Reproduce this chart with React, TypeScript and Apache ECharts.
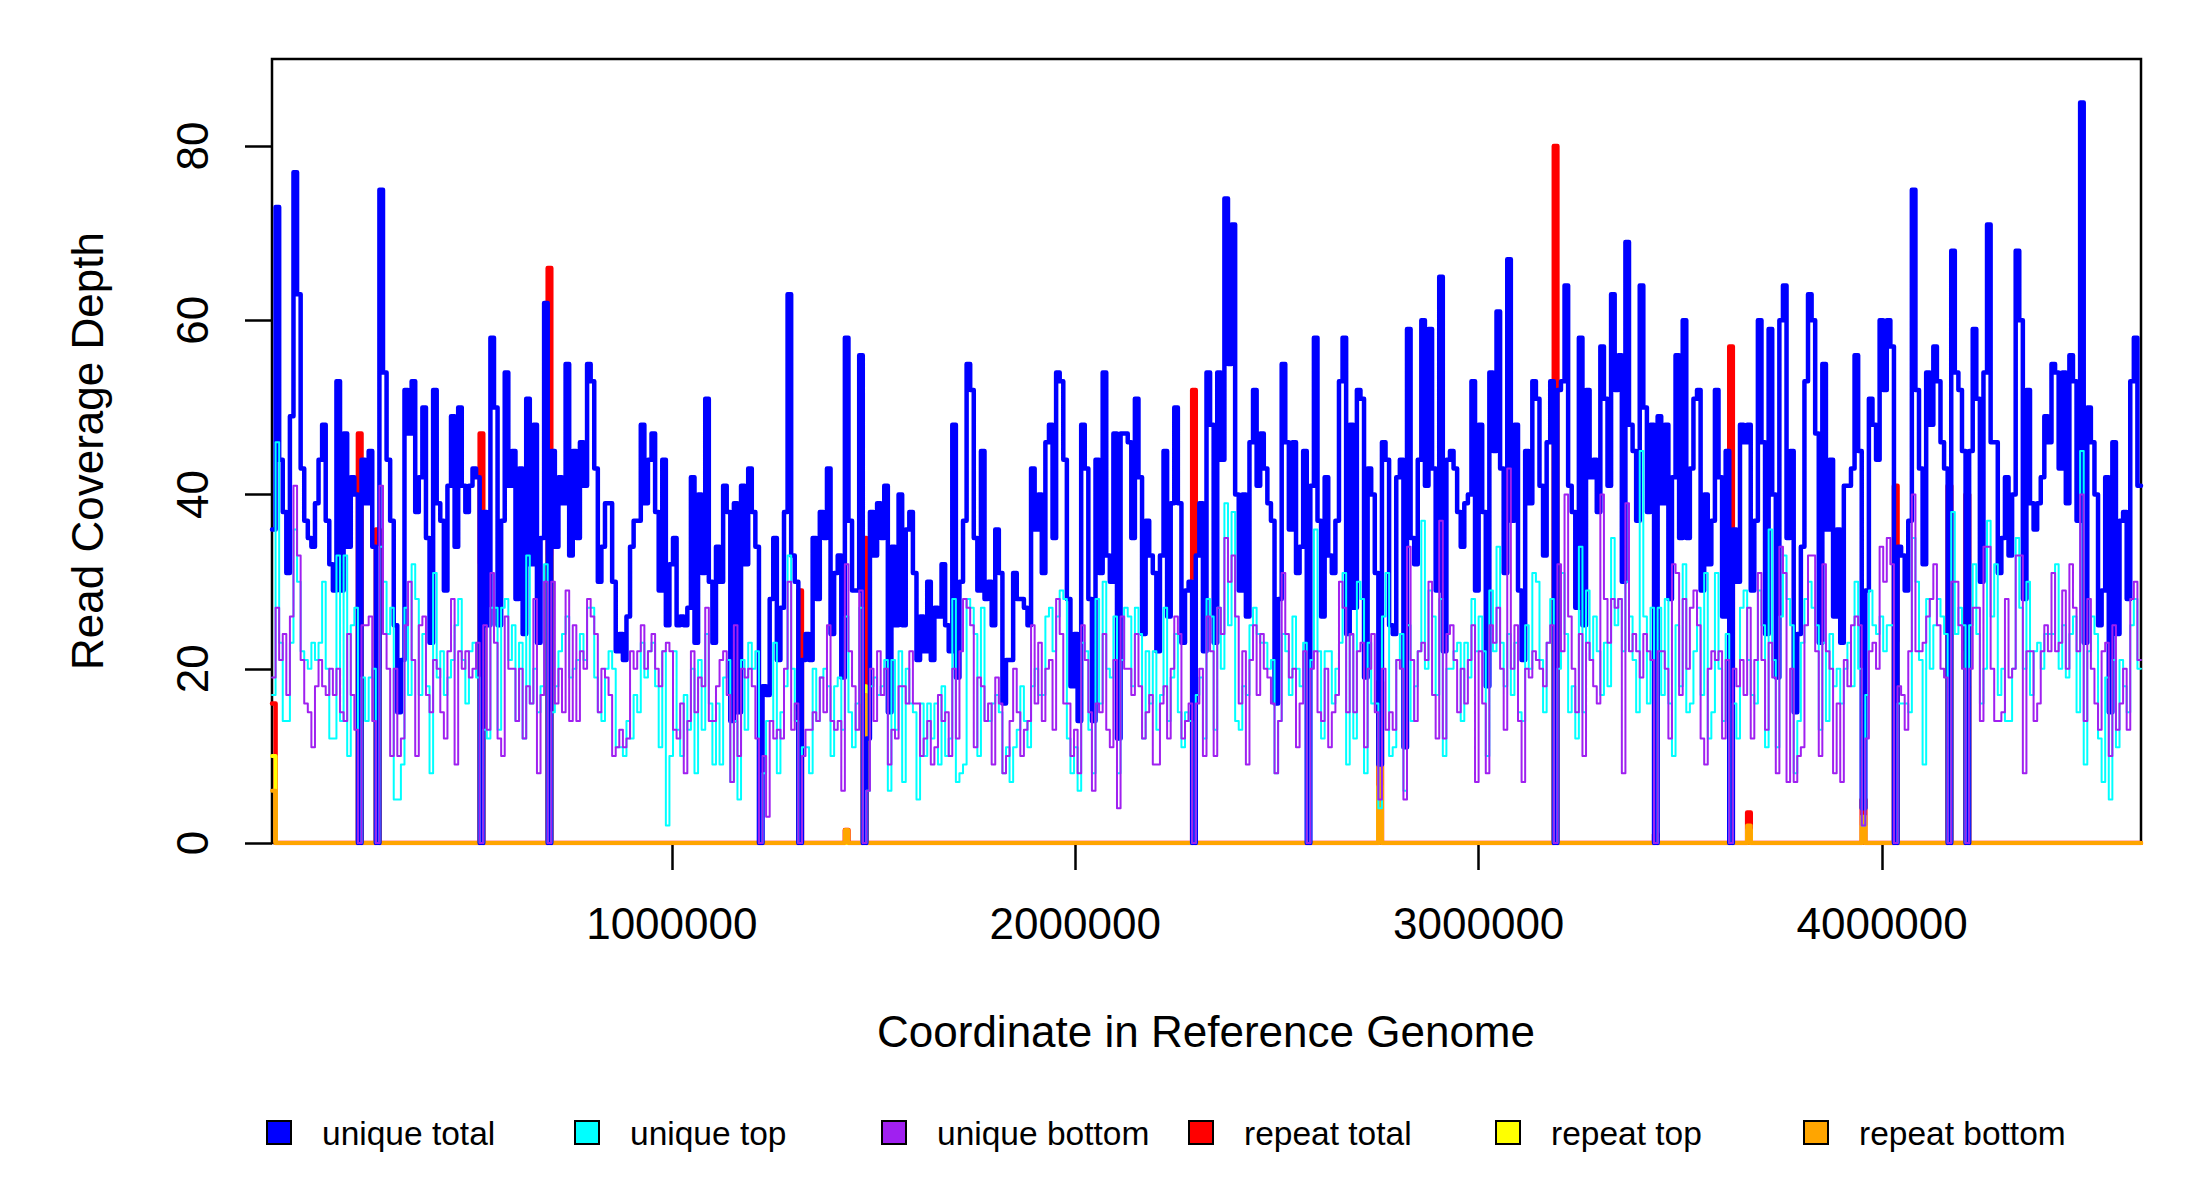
import React, { useEffect, useRef } from "react";
import * as echarts from "echarts";

// ---- axis ranges and ticks ----
const GENOME_START = 9000;
const GENOME_END = 4641652;
const X_TICKS = [1000000, 2000000, 3000000, 4000000];
const Y_TICKS = [0, 20, 40, 60, 80];
const Y_MAX = 90;

// ---- coverage per genome bin ----
const UNIQUE_TOTAL = [
  36,73,44,38,31,49,77,63,43,37, 35,34,39,44,48,37,32,29,53,29, 47,34,42,40,0,44,39,45,34,0,
  75,54,44,37,25,15,21,52,47,53, 38,42,50,35,23,52,39,37,29,41, 49,34,50,41,38,41,43,42,0,
  38,25,58,50,25,37,54,41,45,28,43,24,51,32,48,23,35,62,
  0,45,34,42,39,55,33,45,35,46,41,55,
  53,43,30,34,39,39,30,22,24,21, 26,34,37,37,48,39,44,47,38,29, 44,25,32,35,25,26,25,27,42,23,
  40,31,51,30,23,34,30,41,38,14, 39,15,41,32,43,38,34,0,18,17, 28,35,21,27,38,63,33,30,0,21,
  24,21,35,28,38,35,43,24,31,33, 19,58,37,29,29,56,0,12,38,33, 39,35,41,15,34,25,40,25,36,
  38,31,21,26,22,30,21,27,26,32, 25,22,48,19,30,37,55,52,35,29, 45,28,30,25,36,31,16,21,21,31,
  28,28,27,25,43,36,40,31,46,48, 35,54,53,44,28,18,24,
  14,48,43,28,14,44,31,54,33,30, 47,12,47,47,46,35,51,42,24,37, 33,31,22,33,45,26,39,50,39,23, 29,30,
  0, 33,39,22,54,48,23,54,44, 74,
  55,71,40,29,40,26,46,52,41,47, 43,39,37,16,28,55,46,36,46,31, 34,45,0,41,58,37,26,42,33,31,
  37,53,58,24,48,27,52,51,19,43, 40,31,9,46,44,25,24,42,44,11, 59,35,32,44,60,41,59,43,29,65,
  22,44,45,43,38,34,39,40,53, 29,48,38,18,54,45,61,43,31,67, 37,48,29,21,45,39,53,51,41, 33,46,
  53,0,52,53,64,41,38,27,58,25, 52,42,44,38,57,51,41,63,52,56, 30,69,48,45,37,64,50,38,48,0,
  49,39,48,28,42,56,35,60,35, 43,51,52,29,40,32,37,52, 42,26,45,0,36,30,48,46,48,29,
  37,60,46,24,59,40,19,60,64,35, 45,15,24,34,53,63,60,47,23,55, 36,44,26,36,23,41,41,43,56,45,
  4,
  29,51,48,44,60,52,60,57,0,34, 33,29,37,75,52,43,32,54,48,57, 53,46,43,0,68,54,52,45,0,45,
  59,51,30,54,71,46,46,31,35,42, 33,40,68,60,28,52,39,36,39,42, 49,46,55,54,43,54,39,56,53,37,
  85,23,50,46,40,25,29,42,15,46,24,37,38,28,53,58,41,
];

const UNIQUE_TOP = [
  17,46,23,14,14,23,36,30,22,21, 20,23,21,23,30,20,12,12,33,14, 33,10,25,27,0,19,14,19,20,0,
  34,30,24,27,5,5,9,27,17,32, 28,17,24,18,8,31,19,22,17,19, 21,25,28,21,16,22,23,19,0,
  13,12,27,27,13,27,28,21,25,14,23,12,33,16,20,15,18,32,
  0,15,18,22,24,26,19,20,21,24,21,27,
  27,19,15,14,20,22,20,11,11,10, 14,12,17,15,23,19,22,23,18,11, 22,2,10,22,13,10,17,13,20,8,
  21,13,24,16,9,16,9,19,21,7, 14,5,21,13,23,20,22,0,8,14, 14,23,8,15,18,33,20,14,0,11,
  11,8,20,14,19,20,18,10,18,19, 13,26,15,11,16,27,0,6,18,19, 17,18,21,6,21,13,22,7,20,
  16,15,5,16,10,16,12,16,9,18, 10,12,28,7,8,9,28,27,24,10, 27,14,14,16,17,15,8,11,7,11,
  13,18,14,11,18,20,17,17,26,27, 22,26,29,28,12,8,11,
  6,23,22,13,8,28,16,30,20,19, 26,8,21,27,26,18,27,24,12,22, 16,22,13,17,27,14,19,24,15,11, 15,14,
  0, 17,19,12,28,26,13,27,20, 39,
  25,38,14,13,18,17,25,27,24,23, 23,20,21,8,14,24,22,17,26,20, 18,23,0,21,36,22,12,22,22,16,
  20,23,31,9,24,12,30,28,8,23, 16,16,4,26,31,10,11,21,24,6, 25,14,18,22,37,20,29,26,17,28,
  10,20,20,22,23,14,23,19,28, 22,26,22,10,29,22,34,23,18,24, 17,23,15,14,25,20,31,30,21, 15,23,
  28,0,20,31,24,15,18,12,34,15, 29,21,26,22,17,23,18,35,25,28, 22,30,26,21,15,45,26,16,27,0,
  27,17,28,16,10,25,18,32,15, 16,22,27,17,31,12,15,31, 20,14,24,0,16,12,27,29,21,17,
  16,29,25,11,36,21,11,26,33,28, 25,8,14,23,28,30,27,25,13,23, 14,24,18,20,16,20,23,18,30,20,
  2,
  17,29,25,24,26,22,25,25,0,16, 16,16,15,35,30,21,9,28,20,25, 28,26,24,0,38,24,27,25,0,25,
  32,24,16,20,37,26,32,17,20,14, 14,20,35,27,20,30,17,22,23,20, 24,24,24,32,20,25,19,24,26,15,
  45,9,22,26,24,12,7,19,5,21,11,21,18,15,25,28,20,
];

const UNIQUE_BOTTOM = [
  19,27,21,24,17,26,41,33,21,16, 15,11,18,21,18,17,20,17,20,15, 14,24,17,13,0,25,25,26,14,0,
  41,24,20,10,20,10,12,25,30,21, 10,25,26,17,15,21,20,15,12,22, 28,9,22,20,22,19,20,23,0,
  25,13,31,23,12,10,26,20,20,14,20,12,18,16,28,8,17,30,
  0,30,16,20,15,29,14,25,14,22,20,28,
  26,24,15,20,19,17,10,11,13,11, 12,22,20,22,25,20,22,24,20,18, 22,23,22,13,12,16,8,14,22,15,
  19,18,27,14,14,18,21,22,17,7, 25,10,20,19,20,18,12,0,10,3, 14,12,13,12,20,30,13,16,0,10,
  13,13,15,14,19,15,25,14,13,14, 6,32,22,18,13,29,0,6,20,14, 22,17,20,9,13,12,18,18,16,
  22,16,16,10,12,14,9,11,17,14, 15,10,20,12,22,28,27,25,11,19, 18,14,16,9,19,16,8,10,14,20,
  15,10,13,14,25,16,23,14,20,21, 13,28,24,16,16,10,13,
  8,25,21,15,6,16,15,24,13,11, 21,4,26,20,20,17,24,18,12,15, 17,9,9,16,18,12,20,26,24,12, 14,16,
  0, 16,20,10,26,22,10,27,24, 35,
  30,33,26,16,22,9,21,25,17,24, 20,19,16,8,14,31,24,19,20,11, 16,22,0,20,22,15,14,20,11,15,
  17,30,27,15,24,15,22,23,11,20, 24,15,5,20,13,15,13,21,20,5, 34,21,14,22,23,21,30,17,12,37,
  12,24,25,21,15,20,16,21,25, 7,22,16,8,25,23,27,20,13,43, 20,25,14,7,20,19,22,21,20, 18,23,
  25,0,32,22,40,26,20,15,24,10, 23,21,18,16,40,28,23,28,27,28, 8,39,22,24,22,19,24,22,21,0,
  22,22,20,12,32,31,17,28,20, 27,29,25,12,9,20,22,21, 22,12,21,0,20,18,21,17,27,12,
  21,31,21,13,23,19,8,34,31,7, 20,7,10,11,25,33,33,22,10,32, 22,20,8,16,7,21,18,25,26,25,
  2,
  12,22,23,20,34,30,35,32,0,18, 17,13,22,40,22,22,23,26,28,32, 25,20,19,0,30,30,25,20,0,20,
  27,27,14,34,34,20,14,14,15,28, 19,20,33,33,8,22,22,14,16,22, 25,22,31,22,23,29,20,32,27,22,
  40,14,28,20,16,13,22,23,10,25,13,16,20,13,28,30,21,
];

// repeat coverage: only non-zero bins (bin index, values)
const REPEAT_BINS = [0, 24, 29, 58, 77, 147, 160, 165, 257, 309, 358, 386, 407, 412, 444, 453, 468, 473];
const REPEAT_TOTAL = [16, 47, 36, 47, 66, 29, 1.5, 35, 52, 18.5, 80, 1, 57, 3.5, 5, 41, 41, 40];
const REPEAT_TOP = [10, 25, 20, 32, 33, 15, 0, 18, 22, 6.5, 28, 0.5, 32, 1.5, 2, 23, 21, 22];
const REPEAT_BOTTOM = [6, 22, 16, 15, 33, 14, 1.5, 17, 30, 12, 52, 0.5, 25, 2, 3, 18, 20, 18];

const LEGEND_NAMES = ["unique total", "unique top", "unique bottom", "repeat total", "repeat top", "repeat bottom"];
const COLORS = ["#0000FF", "#00FFFF", "#A020F0", "#FF0000", "#FFFF00", "#FFA500"];

const FONT = "'Liberation Sans', Arial, Helvetica, sans-serif";

function buildOption() {
  const n = UNIQUE_TOTAL.length;
  const bin = (GENOME_END - GENOME_START) / n;
  const stepData = (vals: number[]) => {
    const d: number[][] = vals.map((v, i) => [GENOME_START + i * bin, v]);
    d.push([GENOME_END, vals[vals.length - 1]]);
    return d;
  };
  const fullRepeat = (vals: number[]) => {
    const a: number[] = new Array(n).fill(0);
    REPEAT_BINS.forEach((b, k) => {
      a[b] = vals[k];
    });
    return a;
  };
  const line = (name: string, vals: number[], color: string, width: number) => ({
    type: "line",
    name,
    data: stepData(vals),
    step: "end",
    showSymbol: false,
    symbol: "none",
    silent: true,
    clip: true,
    lineStyle: { color, width, cap: "round", join: "round" },
    itemStyle: { color },
  });

  const series = [
    line("repeat total", fullRepeat(REPEAT_TOTAL), COLORS[3], 4.5),
    line("repeat top", fullRepeat(REPEAT_TOP), COLORS[4], 4),
    line("repeat bottom", fullRepeat(REPEAT_BOTTOM), COLORS[5], 4),
    line("unique total", UNIQUE_TOTAL, COLORS[0], 4.5),
    line("unique top", UNIQUE_TOP, COLORS[1], 2),
    line("unique bottom", UNIQUE_BOTTOM, COLORS[2], 2),
  ];

  const legendX = [279, 587, 894, 1201, 1508, 1816];
  const legendGraphics: any[] = [];
  LEGEND_NAMES.forEach((name, i) => {
    legendGraphics.push({
      type: "rect",
      shape: { x: legendX[i] - 12, y: 1121, width: 24, height: 23 },
      style: { fill: COLORS[i], stroke: "#000", lineWidth: 2 },
      silent: true,
    });
    legendGraphics.push({
      type: "text",
      x: legendX[i] + 43,
      y: 1133,
      style: {
        text: name,
        font: `33.5px ${FONT}`,
        fill: "#000",
        align: "left",
        verticalAlign: "middle",
      },
      silent: true,
    });
  });

  return {
    animation: false,
    backgroundColor: "#fff",
    grid: {
      left: 272,
      top: 59,
      width: 1869,
      height: 784,
      show: true,
      borderColor: "#000",
      borderWidth: 2.5,
      backgroundColor: "transparent",
    },
    xAxis: {
      type: "value",
      min: GENOME_START,
      max: GENOME_END,
      axisLine: { show: false },
      splitLine: { show: false },
      axisTick: { show: true, customValues: X_TICKS, length: 27, lineStyle: { color: "#000", width: 2.5 } },
      axisLabel: {
        customValues: X_TICKS,
        formatter: (v: number) => String(v),
        fontSize: 44,
        fontFamily: FONT,
        color: "#000",
        margin: 58,
      },
    },
    yAxis: {
      type: "value",
      min: 0,
      max: Y_MAX,
      axisLine: { show: false },
      splitLine: { show: false },
      axisTick: { show: true, customValues: Y_TICKS, length: 27, lineStyle: { color: "#000", width: 2.5 } },
      axisLabel: {
        customValues: Y_TICKS,
        rotate: 90,
        fontSize: 44,
        fontFamily: FONT,
        color: "#000",
        margin: 58,
      },
    },
    series,
    graphic: [
      {
        type: "text",
        x: 1206,
        y: 1031,
        style: {
          text: "Coordinate in Reference Genome",
          font: `44px ${FONT}`,
          fill: "#000",
          align: "center",
          verticalAlign: "middle",
        },
        silent: true,
      },
      {
        type: "text",
        x: 87,
        y: 451,
        rotation: Math.PI / 2,
        style: {
          text: "Read Coverage Depth",
          font: `44px ${FONT}`,
          fill: "#000",
          align: "center",
          verticalAlign: "middle",
        },
        silent: true,
      },
      ...legendGraphics,
    ],
  };
}

export default function App() {
  const ref = useRef<HTMLDivElement>(null);
  useEffect(() => {
    document.body.style.margin = "0";
    if (!ref.current) return;
    const chart = echarts.init(ref.current, undefined, { renderer: "svg" });
    chart.setOption(buildOption() as any);
    return () => chart.dispose();
  }, []);
  return <div ref={ref} style={{ width: 2200, height: 1200, background: "#fff" }} />;
}
